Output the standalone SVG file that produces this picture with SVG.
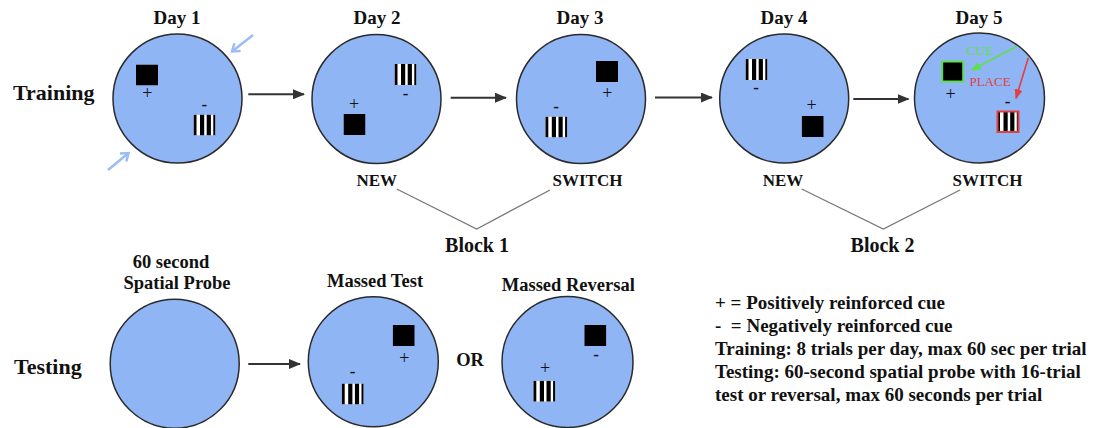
<svg xmlns="http://www.w3.org/2000/svg" xmlns:xlink="http://www.w3.org/1999/xlink" width="1098" height="428" viewBox="0 0 1098 428">
  <style>
    text { font-family: "Liberation Serif", "Times New Roman", serif; fill: #111; }
    .day { font-size: 19px; font-weight: bold; text-anchor: middle; }
    .row { font-size: 22px; font-weight: bold; }
    .tag { font-size: 17px; font-weight: bold; text-anchor: middle; }
    .blk { font-size: 20px; font-weight: bold; text-anchor: middle; }
    .cap { font-size: 18.5px; font-weight: bold; text-anchor: middle; }
    .leg { font-size: 19px; font-weight: bold; white-space: pre; }
    .pos { font-size: 18px; text-anchor: middle; fill: #111; }
    .neg { font-size: 17px; font-weight: bold; text-anchor: middle; }
    .pool { fill: #8fb5f5; stroke: #2a2a2a; stroke-width: 1.5; }
    .flow { stroke: #333; stroke-width: 2; fill: none; marker-end: url(#ah); }
    .brace { stroke: #777; stroke-width: 1.3; fill: none; }
    .start { stroke: #9cbcf6; stroke-width: 2.5; fill: none; marker-end: url(#ahBlue); }
  </style>
  <defs>
    <marker id="ah" markerWidth="12" markerHeight="10" refX="11" refY="5" orient="auto" markerUnits="userSpaceOnUse">
      <path d="M0,0 L12,5 L0,10 z" fill="#333"/>
    </marker>
    <marker id="ahBlue" markerWidth="12" markerHeight="12" refX="9" refY="6" orient="auto" markerUnits="userSpaceOnUse">
      <path d="M2,1 L9,6 L2,11" fill="none" stroke="#9cbcf6" stroke-width="2.5"/>
    </marker>
    <marker id="ahGreen" markerWidth="10" markerHeight="8" refX="9" refY="4" orient="auto" markerUnits="userSpaceOnUse">
      <path d="M0,0 L10,4 L0,8 z" fill="#5fe04a"/>
    </marker>
    <marker id="ahRed" markerWidth="10" markerHeight="8" refX="9" refY="4" orient="auto" markerUnits="userSpaceOnUse">
      <path d="M0,0 L10,4 L0,8 z" fill="#e04040"/>
    </marker>
    <!-- solid black cue card -->
    <symbol id="solid" viewBox="0 0 22 21" width="22" height="21">
      <rect width="22" height="21" fill="#000"/>
    </symbol>
    <!-- vertically striped cue card: thin edge bars, wide inner bars -->
    <symbol id="bars" viewBox="0 0 22 21" width="22" height="21">
      <rect width="22" height="21" fill="#fff"/>
      <rect x="0" width="3" height="21" fill="#000"/>
      <rect x="6.5" width="4.2" height="21" fill="#000"/>
      <rect x="13.2" width="4.2" height="21" fill="#000"/>
      <rect x="19.8" width="2.2" height="21" fill="#000"/>
    </symbol>
  </defs>

  <!-- row labels -->
  <text class="row" x="13" y="99.5">Training</text>
  <text class="row" x="14" y="373.5">Testing</text>

  <!-- Day 1 -->
  <g id="day1">
    <text class="day" x="177" y="24">Day 1</text>
    <circle class="pool" cx="177.5" cy="98.5" r="64.5"/>
    <use xlink:href="#solid" x="136" y="64.5"/>
    <text class="pos" x="147.3" y="98.5">+</text>
    <text class="neg" x="204.3" y="110">-</text>
    <use xlink:href="#bars" x="193.5" y="114.5"/>
    <line class="start" x1="253" y1="35" x2="232" y2="51.5"/>
    <line class="start" x1="108" y1="170" x2="128.5" y2="153"/>
  </g>

  <!-- Day 2 -->
  <g id="day2">
    <text class="day" x="377" y="24">Day 2</text>
    <circle class="pool" cx="376.5" cy="99" r="64.5"/>
    <use xlink:href="#bars" x="394.5" y="64"/>
    <text class="neg" x="405.7" y="99">-</text>
    <text class="pos" x="354" y="109.5">+</text>
    <use xlink:href="#solid" x="343.5" y="114"/>
    <text class="tag" x="376.7" y="185.5">NEW</text>
  </g>

  <!-- Day 3 -->
  <g id="day3">
    <text class="day" x="580" y="24">Day 3</text>
    <circle class="pool" cx="581" cy="99" r="64.5"/>
    <use xlink:href="#solid" x="596" y="61"/>
    <text class="pos" x="607.3" y="98.8">+</text>
    <text class="neg" x="556" y="111.7">-</text>
    <use xlink:href="#bars" x="545.3" y="116.5"/>
    <text class="tag" x="587.5" y="185.5">SWITCH</text>
  </g>

  <!-- Day 4 -->
  <g id="day4">
    <text class="day" x="784" y="24">Day 4</text>
    <circle class="pool" cx="784.2" cy="98.5" r="64.5"/>
    <use xlink:href="#bars" x="745.5" y="59"/>
    <text class="neg" x="756" y="93.4">-</text>
    <text class="pos" x="811.7" y="110.5">+</text>
    <use xlink:href="#solid" x="801.7" y="116"/>
    <text class="tag" x="783" y="185.5">NEW</text>
  </g>

  <!-- Day 5 -->
  <g id="day5">
    <text class="day" x="979" y="24">Day 5</text>
    <circle class="pool" cx="979.5" cy="98" r="65"/>
    <use xlink:href="#solid" x="941.7" y="61"/>
    <rect x="942.2" y="61.5" width="21" height="20" fill="none" stroke="#5fe04a" stroke-width="2"/>
    <text class="pos" x="950.7" y="100.2">+</text>
    <text class="neg" x="1007.7" y="107.4">-</text>
    <use xlink:href="#bars" x="997" y="111"/>
    <rect x="997.5" y="111.5" width="21" height="20.5" fill="none" stroke="#e04040" stroke-width="2"/>
    <text x="979.7" y="55" style="font-size:13.5px;fill:#5fe04a;text-anchor:middle">CUE</text>
    <text x="990" y="86" style="font-size:13px;fill:#e04040;text-anchor:middle">PLACE</text>
    <line x1="1016" y1="46.7" x2="971.7" y2="70" stroke="#5fe04a" stroke-width="1.6" marker-end="url(#ahGreen)"/>
    <line x1="1028.3" y1="57.7" x2="1016" y2="98.3" stroke="#e04040" stroke-width="1.6" marker-end="url(#ahRed)"/>
    <text class="tag" x="987.5" y="185.5">SWITCH</text>
  </g>

  <!-- block labels -->
  <g id="block1">
    <text class="blk" x="477" y="252">Block 1</text>
  </g>
  <g id="block2">
    <text class="blk" x="882.5" y="252">Block 2</text>
  </g>

  <!-- Spatial probe -->
  <g id="probe">
    <text class="cap" x="171" y="267.5">60 second</text>
    <text class="cap" x="177" y="288.5">Spatial Probe</text>
    <circle class="pool" cx="174.7" cy="363.7" r="64.5"/>
  </g>

  <!-- Massed test -->
  <g id="massed-test">
    <text class="cap" x="375" y="287">Massed Test</text>
    <circle class="pool" cx="373.3" cy="361.7" r="65"/>
    <use xlink:href="#solid" x="392.7" y="325"/>
    <text class="pos" x="404.3" y="363.8">+</text>
    <text class="neg" x="352.7" y="376.7">-</text>
    <use xlink:href="#bars" x="341.7" y="383.5"/>
  </g>

  <text class="cap" x="470" y="366">OR</text>

  <!-- Massed reversal -->
  <g id="massed-reversal">
    <text class="cap" x="568.3" y="291">Massed Reversal</text>
    <circle class="pool" cx="567.5" cy="362" r="65.5"/>
    <use xlink:href="#solid" x="584.3" y="325"/>
    <text class="neg" x="596" y="360.1">-</text>
    <text class="pos" x="545" y="373.8">+</text>
    <use xlink:href="#bars" x="533.3" y="380.7"/>
  </g>

  <!-- legend -->
  <g id="legend">
    <text class="leg" x="715" y="308.5">+ = Positively reinforced cue</text>
    <text class="leg" x="715" y="331.5" xml:space="preserve">-  = Negatively reinforced cue</text>
    <text class="leg" x="715" y="354.5">Training: 8 trials per day, max 60 sec per trial</text>
    <text class="leg" x="715" y="377.5">Testing: 60-second spatial probe with 16-trial</text>
    <text class="leg" x="715" y="400.5">test or reversal, max 60 seconds per trial</text>
  </g>

  <!-- connectors -->
  <g id="connectors">
    <line class="flow" x1="248.3" y1="94.3" x2="304" y2="94.3"/>
    <line class="flow" x1="450.7" y1="97.7" x2="506" y2="97.7"/>
    <line class="flow" x1="655" y1="97.5" x2="712" y2="97.5"/>
    <line class="flow" x1="853.3" y1="99" x2="908.5" y2="99"/>
    <line class="flow" x1="248.3" y1="364" x2="300" y2="364"/>
    <polyline class="brace" points="396.7,189 476.7,229 550,190"/>
    <polyline class="brace" points="801.7,189 883.3,229 960,190"/>
  </g>
</svg>
